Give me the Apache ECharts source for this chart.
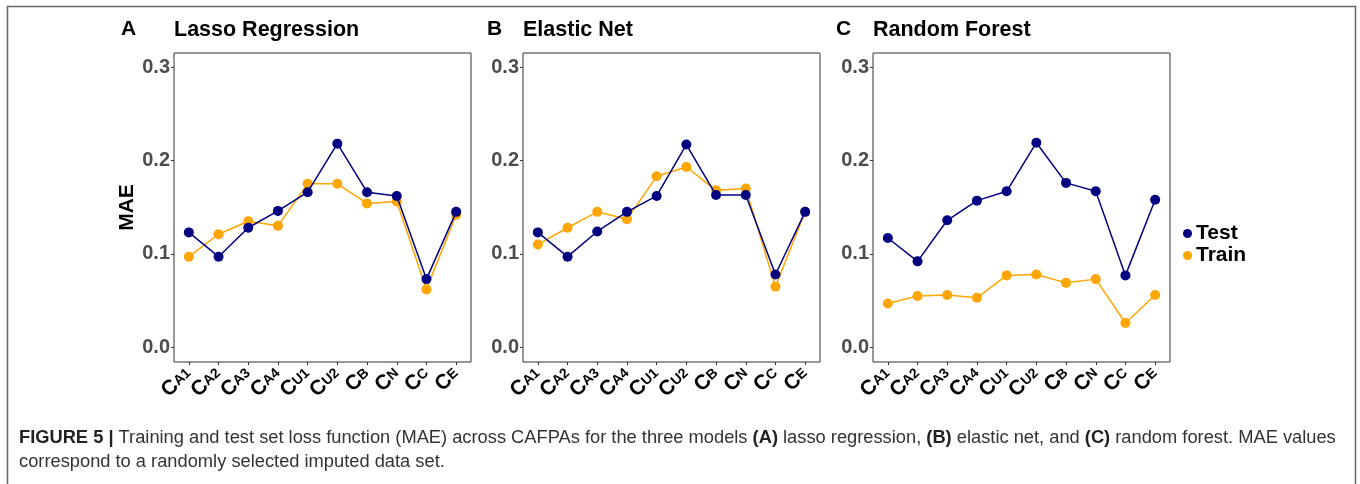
<!DOCTYPE html>
<html>
<head>
<meta charset="utf-8">
<title>Figure 5 MAE</title>
<script src="https://cdn.jsdelivr.net/npm/echarts@6/dist/echarts.min.js"></script>
<style>
    html, body { margin: 0; padding: 0; background: #fff; }
    #chart { width: 1360px; height: 484px; }
</style>
</head>
<body>
<div id="chart"></div>
<script>
// CAFPA subscripts, label is C + subscript
var cafpas = ['A1', 'A2', 'A3', 'A4', 'U1', 'U2', 'B', 'N', 'C', 'E'];
var yTicks = [0, 0.1, 0.2, 0.3];

var panelNames = ['Lasso Regression', 'Elastic Net', 'Random Forest'];
var panelLetters = ['A', 'B', 'C'];

// MAE
var lassoTest  = [0.123, 0.097, 0.128, 0.146, 0.166, 0.218, 0.166, 0.162, 0.073, 0.145];
var lassoTrain = [0.097, 0.121, 0.135, 0.130, 0.175, 0.175, 0.154, 0.156, 0.062, 0.142];
var enetTest   = [0.123, 0.097, 0.124, 0.145, 0.162, 0.217, 0.163, 0.163, 0.078, 0.145];
var enetTrain  = [0.110, 0.128, 0.145, 0.137, 0.183, 0.193, 0.168, 0.170, 0.065, 0.145];
var rfTest     = [0.117, 0.092, 0.136, 0.157, 0.167, 0.219, 0.176, 0.167, 0.077, 0.158];
var rfTrain    = [0.047, 0.055, 0.056, 0.053, 0.077, 0.078, 0.069, 0.073, 0.026, 0.056];

var testData = [lassoTest, enetTest, rfTest];
var trainData = [lassoTrain, enetTrain, rfTrain];

var NAVY = '#000080';
var ORANGE = '#FFA500';
var FONT = '"Liberation Sans", Arial, sans-serif';

var gridLefts = [174, 523, 873];
var letterLefts = [121, 487, 836];
var gridW = 297;
var gridTop = 53;
var gridH = 309;

var grids = [], xAxes = [], yAxes = [], series = [], graphics = [];

gridLefts.forEach(function (left, i) {
    grids.push({
        left: left, top: gridTop, width: gridW, height: gridH,
        show: true, borderColor: '#333', borderWidth: 1, backgroundColor: '#fff'
    });
    xAxes.push({
        type: 'category', gridIndex: i, data: cafpas, boundaryGap: true,
        axisLine: { show: false, onZero: false },
        axisTick: { show: true, alignWithLabel: true, length: 3, lineStyle: { color: '#333' } },
        axisLabel: {
            rotate: 43, margin: 9, interval: 0,
            formatter: function (v) { return '{c|C}{s|' + v + '}'; },
            rich: {
                c: { fontFamily: FONT, fontWeight: 'bold', fontSize: 21, color: '#000' },
                s: { fontFamily: FONT, fontWeight: 'bold', fontSize: 14, color: '#000' }
            }
        }
    });
    yAxes.push({
        type: 'value', gridIndex: i, min: -0.0157, max: 0.315,
        splitLine: { show: false },
        axisLine: { show: false },
        axisTick: { show: true, length: 3, customValues: yTicks, lineStyle: { color: '#333' } },
        axisLabel: {
            customValues: yTicks, margin: 4,
            fontFamily: FONT, fontWeight: 'bold', fontSize: 20, color: '#4d4d4d',
            formatter: function (v) { return v.toFixed(1); }
        },
        name: i === 0 ? 'MAE' : '',
        nameLocation: 'middle', nameGap: 36,
        nameTextStyle: { fontFamily: FONT, fontWeight: 'bold', fontSize: 21, color: '#000' }
    });
    series.push({
        name: 'Train', type: 'line', xAxisIndex: i, yAxisIndex: i,
        data: trainData[i], symbol: 'circle', symbolSize: 10,
        itemStyle: { color: ORANGE }, lineStyle: { color: ORANGE, width: 1.5 },
        z: 2, animation: false
    });
    series.push({
        name: 'Test', type: 'line', xAxisIndex: i, yAxisIndex: i,
        data: testData[i], symbol: 'circle', symbolSize: 10,
        itemStyle: { color: NAVY }, lineStyle: { color: NAVY, width: 1.5 },
        z: 3, animation: false
    });
    // panel letter and title
    graphics.push({
        type: 'text', left: letterLefts[i], top: 19,
        style: { text: panelLetters[i], font: 'bold 21px ' + FONT, fill: '#000' }
    });
    graphics.push({
        type: 'text', left: left, top: 19,
        style: { text: panelNames[i], font: 'bold 21.5px ' + FONT, fill: '#000' }
    });
});

// figure frame
graphics.push({
    type: 'rect', shape: { x: 7.5, y: 6.5, width: 1348, height: 500 },
    style: { fill: 'none', stroke: '#666', lineWidth: 1.5 }, silent: true
});

// caption
var capFont = '"Liberation Sans", Arial, sans-serif';
graphics.push({
    type: 'text', left: 19, top: 429,
    style: {
        text: '{b|FIGURE 5 |} Training and test set loss function (MAE) across CAFPAs for the three models {b|(A)} lasso regression, {b|(B)} elastic net, and {b|(C)} random forest. MAE values',
        font: '18.3px ' + capFont, fill: '#333',
        rich: { b: { font: 'bold 18.3px ' + capFont, fill: '#222' } }
    }
});
graphics.push({
    type: 'text', left: 19, top: 453,
    style: { text: 'correspond to a randomly selected imputed data set.', font: '18.3px ' + capFont, fill: '#333' }
});

var option = {
    backgroundColor: '#fff',
    animation: false,
    legend: {
        data: ['Test', 'Train'], orient: 'vertical', left: 1178, top: 218,
        icon: 'circle', itemWidth: 9, itemHeight: 9, itemGap: 1,
        textStyle: { fontFamily: FONT, fontWeight: 'bold', fontSize: 21, color: '#000', padding: [0, 0, 0, -1] }
    },
    grid: grids,
    xAxis: xAxes,
    yAxis: yAxes,
    series: series,
    graphic: graphics
};

var chart = echarts.init(document.getElementById('chart'));
chart.setOption(option);
</script>
</body>
</html>
